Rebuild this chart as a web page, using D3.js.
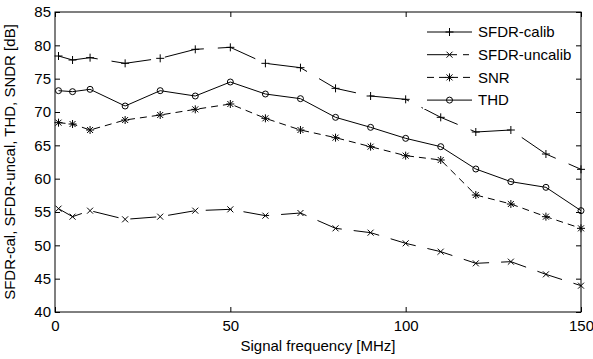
<!DOCTYPE html>
<html>
<head>
<meta charset="utf-8">
<script src="https://cdn.jsdelivr.net/npm/d3@7"></script>
<style>
  body { margin: 0; background: #fff; }
  text { font-family: Arial, "Liberation Sans", sans-serif; }
</style>
</head>
<body>
<div id="chart"></div>
<script>
// frequencies in MHz
var freqs = [1, 5, 10, 20, 30, 40, 50, 60, 70, 80, 90, 100, 110, 120, 130, 140, 150];

// values in dB
var sfdrCalib = [78.4, 77.8, 78.15, 77.3, 78.05, 79.4, 79.7, 77.3, 76.65, 73.55, 72.4, 71.9, 69.2, 67.0, 67.3, 63.7, 61.4];
var sfdrUncalib = [55.5, 54.3, 55.2, 53.9, 54.3, 55.2, 55.4, 54.45, 54.85, 52.55, 51.9, 50.3, 49.05, 47.3, 47.55, 45.65, 43.95];
var snr = [68.4, 68.2, 67.3, 68.8, 69.55, 70.4, 71.2, 69.05, 67.3, 66.15, 64.8, 63.45, 62.8, 57.55, 56.2, 54.3, 52.55];
var thd = [73.2, 73.05, 73.4, 70.9, 73.2, 72.4, 74.5, 72.7, 72.0, 69.2, 67.7, 66.05, 64.8, 61.45, 59.55, 58.7, 55.2];

var xTicks = [0, 50, 100, 150];
var yTicks = [40, 45, 50, 55, 60, 65, 70, 75, 80, 85];

var series = [
  { name: "SFDR-calib", values: sfdrCalib, dash: "40,14", marker: "plus" },
  { name: "SFDR-uncalib", values: sfdrUncalib, dash: "26,12", marker: "cross" },
  { name: "SNR", values: snr, dash: "7,5", marker: "star" },
  { name: "THD", values: thd, dash: null, marker: "circle" }
];

var margin = { top: 12, right: 12, bottom: 47, left: 55 },
  width = 593 - margin.left - margin.right,
  height = 359 - margin.top - margin.bottom;

var x = d3.scaleLinear().domain([0, 150]).range([0, width]);
var y = d3.scaleLinear().domain([40, 85]).range([height, 0]);

var svg = d3
  .select("#chart")
  .append("svg")
  .attr("width", 593)
  .attr("height", 359)
  .append("g")
  .attr("transform", "translate(" + margin.left + "," + margin.top + ")");

// box with inward ticks on all sides
function styleAxis(g) {
  g.select(".domain").remove();
  g.selectAll("line").attr("stroke", "#000");
  g.selectAll("text").attr("font-size", "15px").attr("fill", "#000");
}
svg.append("g")
  .attr("transform", "translate(0," + height + ")")
  .call(d3.axisBottom(x).tickValues(xTicks).tickSize(-5).tickPadding(8))
  .call(styleAxis);
svg.append("g")
  .call(d3.axisTop(x).tickValues(xTicks).tickSize(-5).tickFormat(""))
  .call(styleAxis);
svg.append("g")
  .call(d3.axisLeft(y).tickValues(yTicks).tickSize(-5).tickPadding(4))
  .call(styleAxis);
svg.append("g")
  .attr("transform", "translate(" + width + ",0)")
  .call(d3.axisRight(y).tickValues(yTicks).tickSize(-5).tickFormat(""))
  .call(styleAxis);
svg.append("rect")
  .attr("width", width)
  .attr("height", height)
  .attr("fill", "none")
  .attr("stroke", "#000")
  .attr("stroke-width", 1);

function drawMarker(g, type, cx, cy) {
  var s = 4;
  if (type === "plus" || type === "star") {
    g.append("path").attr("d", "M" + (cx - s) + "," + cy + "H" + (cx + s) + "M" + cx + "," + (cy - s) + "V" + (cy + s));
  }
  if (type === "cross" || type === "star") {
    var t = 3;
    g.append("path").attr("d", "M" + (cx - t) + "," + (cy - t) + "L" + (cx + t) + "," + (cy + t) +
      "M" + (cx - t) + "," + (cy + t) + "L" + (cx + t) + "," + (cy - t));
  }
  if (type === "circle") {
    g.append("circle").attr("cx", cx).attr("cy", cy).attr("r", 3).attr("fill", "none");
  }
}

var line = d3.line()
  .x(function(d) { return x(d[0]); })
  .y(function(d) { return y(d[1]); });

series.forEach(function(s) {
  var pts = freqs.map(function(f, i) { return [f, s.values[i]]; });
  svg.append("path")
    .datum(pts)
    .attr("d", line)
    .attr("fill", "none")
    .attr("stroke", "#000")
    .attr("stroke-width", 1)
    .attr("stroke-dasharray", s.dash);
  var mg = svg.append("g").attr("stroke", "#000").attr("stroke-width", 1).attr("fill", "none");
  pts.forEach(function(p) { drawMarker(mg, s.marker, x(p[0]), y(p[1])); });
});

// legend (sample lines drawn like matlab: mostly solid for the dash-dot ones)
var legendDash = ["", "30,6,6", "7,5", ""];
var legend = svg.append("g").attr("transform", "translate(372,20)");
series.forEach(function(s, i) {
  var row = legend.append("g").attr("transform", "translate(0," + (i * 22.7) + ")");
  row.append("rect").attr("x", -4).attr("y", -9).attr("width", 140).attr("height", 18).attr("fill", "#fff");
  row.append("line")
    .attr("x1", 0).attr("x2", 45).attr("y1", 0).attr("y2", 0)
    .attr("stroke", "#000").attr("stroke-width", 1)
    .attr("stroke-dasharray", legendDash[i] || null);
  var mg = row.append("g").attr("stroke", "#000").attr("fill", "none");
  drawMarker(mg, s.marker, 22.5, 0);
  row.append("text")
    .attr("x", 51).attr("y", 0).attr("dy", "0.35em")
    .attr("font-size", "15px")
    .text(s.name);
});

// axis labels
svg.append("text")
  .attr("x", width / 2)
  .attr("y", height + 39)
  .attr("text-anchor", "middle")
  .attr("font-size", "15px")
  .text("Signal frequency [MHz]");
svg.append("text")
  .attr("transform", "translate(" + (-40) + "," + (height / 2) + ") rotate(-90)")
  .attr("text-anchor", "middle")
  .attr("font-size", "15px")
  .text("SFDR-cal, SFDR-uncal, THD, SNDR [dB]");
</script>
</body>
</html>
